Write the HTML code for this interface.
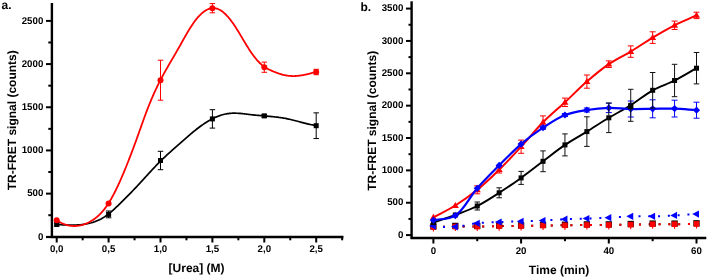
<!DOCTYPE html>
<html><head><meta charset="utf-8"><style>
html,body{margin:0;padding:0;background:#fff;}
body{width:708px;height:278px;overflow:hidden;}
svg{display:block;text-rendering:geometricPrecision;will-change:transform;}
.t{font:bold 9.7px "Liberation Sans",sans-serif;fill:#000;}
.ti{font:bold 12px "Liberation Sans",sans-serif;fill:#000;}
.pl{font:bold 12px "Liberation Sans",sans-serif;fill:#000;}
</style></head><body>
<svg width="708" height="278" viewBox="0 0 708 278">
<path d="M51.9,3V238" stroke="#000" stroke-width="2.4"/>
<path d="M50.7,237H343.5" stroke="#000" stroke-width="2.3"/>
<path d="M46,237H51" stroke="#000" stroke-width="2.2"/>
<path d="M48.3,215.21H51" stroke="#000" stroke-width="2"/>
<path d="M46,193.62H51" stroke="#000" stroke-width="2"/>
<path d="M48.3,172.03H51" stroke="#000" stroke-width="2"/>
<path d="M46,150.44H51" stroke="#000" stroke-width="2"/>
<path d="M48.3,128.85H51" stroke="#000" stroke-width="2"/>
<path d="M46,107.26H51" stroke="#000" stroke-width="2"/>
<path d="M48.3,85.67H51" stroke="#000" stroke-width="2"/>
<path d="M46,64.08H51" stroke="#000" stroke-width="2"/>
<path d="M48.3,42.49H51" stroke="#000" stroke-width="2"/>
<path d="M46,20.90H51" stroke="#000" stroke-width="2"/>
<path d="M56.70,238V242.5" stroke="#000" stroke-width="2"/>
<path d="M82.65,238V240.3" stroke="#000" stroke-width="2"/>
<path d="M108.60,238V242.5" stroke="#000" stroke-width="2"/>
<path d="M134.55,238V240.3" stroke="#000" stroke-width="2"/>
<path d="M160.50,238V242.5" stroke="#000" stroke-width="2"/>
<path d="M186.45,238V240.3" stroke="#000" stroke-width="2"/>
<path d="M212.40,238V242.5" stroke="#000" stroke-width="2"/>
<path d="M238.35,238V240.3" stroke="#000" stroke-width="2"/>
<path d="M264.30,238V242.5" stroke="#000" stroke-width="2"/>
<path d="M290.25,238V240.3" stroke="#000" stroke-width="2"/>
<path d="M316.20,238V242.5" stroke="#000" stroke-width="2"/>
<path d="M342.15,238V240.3" stroke="#000" stroke-width="2"/>
<path d="M56.5,224.55 57.5,224.59 58.5,224.63 59.5,224.68 60.5,224.72 61.5,224.77 62.5,224.82 63.5,224.86 64.5,224.90 65.5,224.94 66.5,224.98 67.5,225.02 68.5,225.04 69.5,225.07 70.5,225.08 71.5,225.09 72.5,225.10 73.5,225.09 74.5,225.08 75.5,225.05 76.5,225.02 77.5,224.97 78.5,224.91 79.5,224.84 80.5,224.76 81.5,224.66 82.5,224.55 83.5,224.42 84.5,224.27 85.5,224.11 86.5,223.93 87.5,223.74 88.5,223.52 89.5,223.28 90.5,223.02 91.5,222.75 92.5,222.45 93.5,222.12 94.5,221.78 95.5,221.41 96.5,221.01 97.5,220.59 98.5,220.14 99.5,219.67 100.5,219.16 101.5,218.63 102.5,218.07 103.5,217.47 104.5,216.85 105.5,216.19 106.5,215.50 107.5,214.78 108.5,214.02 109.5,213.23 110.5,212.40 111.5,211.55 112.5,210.67 113.5,209.77 114.5,208.85 115.5,207.92 116.5,206.97 117.5,206.02 118.5,205.07 119.5,204.10 120.5,203.13 121.5,202.16 122.5,201.18 123.5,200.19 124.5,199.19 125.5,198.19 126.5,197.19 127.5,196.17 128.5,195.15 129.5,194.13 130.5,193.10 131.5,192.07 132.5,191.03 133.5,189.98 134.5,188.93 135.5,187.87 136.5,186.81 137.5,185.74 138.5,184.67 139.5,183.59 140.5,182.51 141.5,181.42 142.5,180.33 143.5,179.24 144.5,178.15 145.5,177.05 146.5,175.96 147.5,174.86 148.5,173.77 149.5,172.68 150.5,171.59 151.5,170.51 152.5,169.44 153.5,168.37 154.5,167.30 155.5,166.25 156.5,165.21 157.5,164.17 158.5,163.15 159.5,162.14 160.5,161.14 161.5,160.15 162.5,159.18 163.5,158.21 164.5,157.26 165.5,156.32 166.5,155.39 167.5,154.47 168.5,153.56 169.5,152.65 170.5,151.76 171.5,150.86 172.5,149.97 173.5,149.09 174.5,148.21 175.5,147.33 176.5,146.46 177.5,145.58 178.5,144.71 179.5,143.83 180.5,142.96 181.5,142.08 182.5,141.20 183.5,140.32 184.5,139.44 185.5,138.56 186.5,137.68 187.5,136.80 188.5,135.93 189.5,135.06 190.5,134.21 191.5,133.36 192.5,132.51 193.5,131.69 194.5,130.87 195.5,130.06 196.5,129.27 197.5,128.49 198.5,127.73 199.5,126.98 200.5,126.25 201.5,125.53 202.5,124.82 203.5,124.14 204.5,123.47 205.5,122.81 206.5,122.18 207.5,121.56 208.5,120.96 209.5,120.38 210.5,119.82 211.5,119.28 212.5,118.76 213.5,118.26 214.5,117.78 215.5,117.33 216.5,116.89 217.5,116.48 218.5,116.09 219.5,115.72 220.5,115.38 221.5,115.06 222.5,114.76 223.5,114.49 224.5,114.25 225.5,114.03 226.5,113.84 227.5,113.68 228.5,113.54 229.5,113.43 230.5,113.34 231.5,113.27 232.5,113.22 233.5,113.20 234.5,113.19 235.5,113.20 236.5,113.23 237.5,113.27 238.5,113.33 239.5,113.39 240.5,113.47 241.5,113.56 242.5,113.66 243.5,113.77 244.5,113.88 245.5,113.99 246.5,114.11 247.5,114.23 248.5,114.36 249.5,114.48 250.5,114.60 251.5,114.72 252.5,114.83 253.5,114.94 254.5,115.05 255.5,115.15 256.5,115.25 257.5,115.34 258.5,115.43 259.5,115.52 260.5,115.60 261.5,115.69 262.5,115.77 263.5,115.85 264.5,115.94 265.5,116.02 266.5,116.10 267.5,116.19 268.5,116.28 269.5,116.36 270.5,116.46 271.5,116.55 272.5,116.65 273.5,116.75 274.5,116.86 275.5,116.97 276.5,117.08 277.5,117.20 278.5,117.33 279.5,117.47 280.5,117.61 281.5,117.76 282.5,117.92 283.5,118.08 284.5,118.26 285.5,118.44 286.5,118.64 287.5,118.84 288.5,119.05 289.5,119.28 290.5,119.51 291.5,119.74 292.5,119.99 293.5,120.24 294.5,120.49 295.5,120.75 296.5,121.01 297.5,121.27 298.5,121.53 299.5,121.80 300.5,122.06 301.5,122.33 302.5,122.59 303.5,122.85 304.5,123.11 305.5,123.36 306.5,123.61 307.5,123.85 308.5,124.09 309.5,124.31 310.5,124.54 311.5,124.75 312.5,124.95 313.5,125.14 314.5,125.32 315.5,125.49 316.4,125.64" stroke="#000" stroke-width="1.7" fill="none"/>
<path d="M56.5,220.16 57.0,220.49 57.5,220.80 58.0,221.11 58.5,221.41 59.0,221.69 59.5,221.97 60.0,222.24 60.5,222.50 61.0,222.75 61.5,222.99 62.0,223.23 62.5,223.45 63.0,223.66 63.5,223.87 64.0,224.06 64.5,224.25 65.0,224.42 65.5,224.59 66.0,224.75 66.5,224.90 67.0,225.04 67.5,225.17 68.0,225.29 68.5,225.40 69.0,225.50 69.5,225.60 70.0,225.68 70.5,225.76 71.0,225.82 71.5,225.88 72.0,225.93 72.5,225.97 73.0,226.00 73.5,226.02 74.0,226.03 74.5,226.03 75.0,226.03 75.5,226.01 76.0,225.99 76.5,225.96 77.0,225.91 77.5,225.86 78.0,225.80 78.5,225.73 79.0,225.66 79.5,225.57 80.0,225.48 80.5,225.37 81.0,225.26 81.5,225.14 82.0,225.01 82.5,224.87 83.0,224.72 83.5,224.56 84.0,224.39 84.5,224.22 85.0,224.04 85.5,223.84 86.0,223.64 86.5,223.43 87.0,223.21 87.5,222.99 88.0,222.75 88.5,222.51 89.0,222.25 89.5,221.99 90.0,221.72 90.5,221.44 91.0,221.15 91.5,220.85 92.0,220.55 92.5,220.23 93.0,219.90 93.5,219.56 94.0,219.21 94.5,218.86 95.0,218.48 95.5,218.10 96.0,217.71 96.5,217.30 97.0,216.89 97.5,216.45 98.0,216.01 98.5,215.56 99.0,215.09 99.5,214.60 100.0,214.11 100.5,213.60 101.0,213.07 101.5,212.53 102.0,211.98 102.5,211.41 103.0,210.82 103.5,210.22 104.0,209.61 104.5,208.98 105.0,208.33 105.5,207.66 106.0,206.98 106.5,206.28 107.0,205.57 107.5,204.83 108.0,204.08 108.5,203.31 109.0,202.53 109.5,201.72 110.0,200.90 110.5,200.05 111.0,199.20 111.5,198.32 112.0,197.43 112.5,196.52 113.0,195.60 113.5,194.66 114.0,193.70 114.5,192.73 115.0,191.75 115.5,190.75 116.0,189.74 116.5,188.71 117.0,187.67 117.5,186.62 118.0,185.55 118.5,184.47 119.0,183.38 119.5,182.28 120.0,181.16 120.5,180.04 121.0,178.90 121.5,177.75 122.0,176.59 122.5,175.42 123.0,174.25 123.5,173.06 124.0,171.86 124.5,170.66 125.0,169.44 125.5,168.22 126.0,166.99 126.5,165.75 127.0,164.50 127.5,163.25 128.0,161.99 128.5,160.72 129.0,159.44 129.5,158.15 130.0,156.86 130.5,155.56 131.0,154.25 131.5,152.94 132.0,151.62 132.5,150.29 133.0,148.96 133.5,147.62 134.0,146.27 134.5,144.91 135.0,143.56 135.5,142.19 136.0,140.82 136.5,139.44 137.0,138.06 137.5,136.67 138.0,135.27 138.5,133.87 139.0,132.47 139.5,131.06 140.0,129.65 140.5,128.24 141.0,126.83 141.5,125.42 142.0,124.01 142.5,122.61 143.0,121.21 143.5,119.82 144.0,118.44 144.5,117.06 145.0,115.70 145.5,114.34 146.0,113.00 146.5,111.67 147.0,110.36 147.5,109.06 148.0,107.78 148.5,106.51 149.0,105.25 149.5,104.01 150.0,102.79 150.5,101.58 151.0,100.38 151.5,99.19 152.0,98.02 152.5,96.87 153.0,95.72 153.5,94.59 154.0,93.47 154.5,92.37 155.0,91.27 155.5,90.19 156.0,89.12 156.5,88.06 157.0,87.01 157.5,85.98 158.0,84.95 158.5,83.94 159.0,82.94 159.5,81.94 160.0,80.96 160.5,79.99 161.0,79.03 161.5,78.08 162.0,77.13 162.5,76.20 163.0,75.27 163.5,74.35 164.0,73.44 164.5,72.54 165.0,71.64 165.5,70.75 166.0,69.86 166.5,68.98 167.0,68.11 167.5,67.23 168.0,66.37 168.5,65.50 169.0,64.64 169.5,63.78 170.0,62.92 170.5,62.07 171.0,61.22 171.5,60.36 172.0,59.51 172.5,58.66 173.0,57.80 173.5,56.95 174.0,56.09 174.5,55.24 175.0,54.38 175.5,53.52 176.0,52.65 176.5,51.78 177.0,50.91 177.5,50.03 178.0,49.15 178.5,48.27 179.0,47.38 179.5,46.49 180.0,45.60 180.5,44.70 181.0,43.81 181.5,42.91 182.0,42.02 182.5,41.12 183.0,40.23 183.5,39.34 184.0,38.46 184.5,37.57 185.0,36.69 185.5,35.82 186.0,34.95 186.5,34.09 187.0,33.23 187.5,32.38 188.0,31.54 188.5,30.70 189.0,29.88 189.5,29.06 190.0,28.26 190.5,27.46 191.0,26.68 191.5,25.91 192.0,25.15 192.5,24.40 193.0,23.67 193.5,22.95 194.0,22.25 194.5,21.56 195.0,20.89 195.5,20.23 196.0,19.59 196.5,18.97 197.0,18.36 197.5,17.76 198.0,17.18 198.5,16.62 199.0,16.08 199.5,15.55 200.0,15.04 200.5,14.54 201.0,14.07 201.5,13.61 202.0,13.16 202.5,12.74 203.0,12.33 203.5,11.94 204.0,11.57 204.5,11.21 205.0,10.88 205.5,10.56 206.0,10.26 206.5,9.98 207.0,9.72 207.5,9.47 208.0,9.25 208.5,9.05 209.0,8.86 209.5,8.70 210.0,8.55 210.5,8.43 211.0,8.32 211.5,8.23 212.0,8.17 212.5,8.13 213.0,8.10 213.5,8.10 214.0,8.12 214.5,8.15 215.0,8.21 215.5,8.30 216.0,8.40 216.5,8.52 217.0,8.67 217.5,8.84 218.0,9.03 218.5,9.24 219.0,9.47 219.5,9.72 220.0,9.99 220.5,10.29 221.0,10.60 221.5,10.93 222.0,11.28 222.5,11.65 223.0,12.04 223.5,12.45 224.0,12.87 224.5,13.31 225.0,13.77 225.5,14.25 226.0,14.75 226.5,15.26 227.0,15.79 227.5,16.33 228.0,16.89 228.5,17.47 229.0,18.06 229.5,18.67 230.0,19.29 230.5,19.93 231.0,20.58 231.5,21.25 232.0,21.93 232.5,22.62 233.0,23.32 233.5,24.04 234.0,24.78 234.5,25.52 235.0,26.28 235.5,27.04 236.0,27.82 236.5,28.61 237.0,29.40 237.5,30.20 238.0,31.01 238.5,31.83 239.0,32.65 239.5,33.48 240.0,34.31 240.5,35.14 241.0,35.98 241.5,36.82 242.0,37.66 242.5,38.50 243.0,39.34 243.5,40.18 244.0,41.02 244.5,41.86 245.0,42.69 245.5,43.52 246.0,44.34 246.5,45.16 247.0,45.98 247.5,46.79 248.0,47.59 248.5,48.38 249.0,49.16 249.5,49.93 250.0,50.70 250.5,51.45 251.0,52.19 251.5,52.92 252.0,53.63 252.5,54.33 253.0,55.02 253.5,55.70 254.0,56.37 254.5,57.02 255.0,57.65 255.5,58.28 256.0,58.89 256.5,59.48 257.0,60.06 257.5,60.63 258.0,61.18 258.5,61.72 259.0,62.24 259.5,62.75 260.0,63.24 260.5,63.72 261.0,64.18 261.5,64.63 262.0,65.06 262.5,65.47 263.0,65.87 263.5,66.25 264.0,66.61 264.5,66.96 265.0,67.29 265.5,67.61 266.0,67.91 266.5,68.20 267.0,68.48 267.5,68.75 268.0,69.01 268.5,69.26 269.0,69.50 269.5,69.74 270.0,69.97 270.5,70.20 271.0,70.43 271.5,70.65 272.0,70.87 272.5,71.09 273.0,71.31 273.5,71.52 274.0,71.73 274.5,71.93 275.0,72.13 275.5,72.33 276.0,72.52 276.5,72.71 277.0,72.90 277.5,73.08 278.0,73.26 278.5,73.43 279.0,73.60 279.5,73.77 280.0,73.93 280.5,74.08 281.0,74.23 281.5,74.37 282.0,74.51 282.5,74.65 283.0,74.78 283.5,74.90 284.0,75.02 284.5,75.13 285.0,75.23 285.5,75.33 286.0,75.42 286.5,75.51 287.0,75.59 287.5,75.66 288.0,75.73 288.5,75.79 289.0,75.84 289.5,75.89 290.0,75.93 290.5,75.97 291.0,76.00 291.5,76.02 292.0,76.04 292.5,76.05 293.0,76.05 293.5,76.05 294.0,76.05 294.5,76.03 295.0,76.02 295.5,76.00 296.0,75.97 296.5,75.94 297.0,75.90 297.5,75.86 298.0,75.81 298.5,75.76 299.0,75.71 299.5,75.65 300.0,75.58 300.5,75.51 301.0,75.44 301.5,75.36 302.0,75.28 302.5,75.20 303.0,75.11 303.5,75.02 304.0,74.92 304.5,74.82 305.0,74.72 305.5,74.61 306.0,74.50 306.5,74.39 307.0,74.28 307.5,74.16 308.0,74.04 308.5,73.91 309.0,73.79 309.5,73.66 310.0,73.53 310.5,73.39 311.0,73.26 311.5,73.12 312.0,72.98 312.5,72.84 313.0,72.69 313.5,72.55 314.0,72.40 314.5,72.25 315.0,72.10 315.5,71.95 316.0,71.80 316.2,71.74" stroke="#ff0000" stroke-width="1.8" fill="none"/>
<path d="M56.70,223.00V226.00M53.95,223.00H59.45M53.95,226.00H59.45" stroke="#000" stroke-width="1" fill="none"/>
<rect x="54.20" y="222.00" width="5" height="5" fill="#000"/>
<path d="M108.60,211.00V217.80M105.85,211.00H111.35M105.85,217.80H111.35" stroke="#000" stroke-width="1" fill="none"/>
<rect x="106.10" y="211.90" width="5" height="5" fill="#000"/>
<path d="M160.50,151.30V169.70M157.75,151.30H163.25M157.75,169.70H163.25" stroke="#000" stroke-width="1" fill="none"/>
<rect x="158.00" y="158.00" width="5" height="5" fill="#000"/>
<path d="M212.40,109.70V128.10M209.65,109.70H215.15M209.65,128.10H215.15" stroke="#000" stroke-width="1" fill="none"/>
<rect x="209.90" y="116.40" width="5" height="5" fill="#000"/>
<path d="M264.30,114.40V117.40M261.55,114.40H267.05M261.55,117.40H267.05" stroke="#000" stroke-width="1" fill="none"/>
<rect x="261.80" y="113.40" width="5" height="5" fill="#000"/>
<path d="M316.20,112.85V138.55M313.45,112.85H318.95M313.45,138.55H318.95" stroke="#000" stroke-width="1" fill="none"/>
<rect x="313.70" y="123.20" width="5" height="5" fill="#000"/>

<circle cx="56.70" cy="220.20" r="3" fill="#ff0000"/>

<circle cx="108.60" cy="203.60" r="3" fill="#ff0000"/>
<path d="M160.50,60.20V100.20M157.75,60.20H163.25M157.75,100.20H163.25" stroke="#ff0000" stroke-width="1" fill="none"/>
<circle cx="160.50" cy="80.20" r="3" fill="#ff0000"/>
<path d="M212.40,3.60V12.80M209.65,3.60H215.15M209.65,12.80H215.15" stroke="#ff0000" stroke-width="1" fill="none"/>
<circle cx="212.40" cy="8.20" r="3" fill="#ff0000"/>
<path d="M264.30,62.10V72.30M261.55,62.10H267.05M261.55,72.30H267.05" stroke="#ff0000" stroke-width="1" fill="none"/>
<circle cx="264.30" cy="67.20" r="3" fill="#ff0000"/>
<path d="M316.20,69.30V74.70M313.45,69.30H318.95M313.45,74.70H318.95" stroke="#ff0000" stroke-width="1" fill="none"/>
<circle cx="316.20" cy="72.00" r="3" fill="#ff0000"/>
<text x="43.3" y="239.60" text-anchor="end" class="t">0</text>
<text x="43.3" y="196.22" text-anchor="end" class="t">500</text>
<text x="43.3" y="153.04" text-anchor="end" class="t">1000</text>
<text x="43.3" y="109.86" text-anchor="end" class="t">1500</text>
<text x="43.3" y="66.68" text-anchor="end" class="t">2000</text>
<text x="43.3" y="23.50" text-anchor="end" class="t">2500</text>
<text x="56.70" y="251.8" text-anchor="middle" class="t">0,0</text>
<text x="108.60" y="251.8" text-anchor="middle" class="t">0,5</text>
<text x="160.50" y="251.8" text-anchor="middle" class="t">1,0</text>
<text x="212.40" y="251.8" text-anchor="middle" class="t">1,5</text>
<text x="264.30" y="251.8" text-anchor="middle" class="t">2,0</text>
<text x="316.20" y="251.8" text-anchor="middle" class="t">2,5</text>
<text x="196.6" y="272" text-anchor="middle" class="ti">[Urea] (M)</text>
<text transform="translate(16.2,120.25) rotate(-90)" text-anchor="middle" class="ti">TR-FRET signal (counts)</text>
<text x="1.5" y="8.5" class="pl">a.</text>
<path d="M411.6,1.3V239" stroke="#000" stroke-width="2.4"/>
<path d="M410.7,238H706.3" stroke="#000" stroke-width="2.3"/>
<path d="M406,235.10H411" stroke="#000" stroke-width="2"/>
<path d="M408.5,218.92H411" stroke="#000" stroke-width="2"/>
<path d="M406,202.74H411" stroke="#000" stroke-width="2"/>
<path d="M408.5,186.56H411" stroke="#000" stroke-width="2"/>
<path d="M406,170.38H411" stroke="#000" stroke-width="2"/>
<path d="M408.5,154.20H411" stroke="#000" stroke-width="2"/>
<path d="M406,138.02H411" stroke="#000" stroke-width="2"/>
<path d="M408.5,121.84H411" stroke="#000" stroke-width="2"/>
<path d="M406,105.66H411" stroke="#000" stroke-width="2"/>
<path d="M408.5,89.48H411" stroke="#000" stroke-width="2"/>
<path d="M406,73.30H411" stroke="#000" stroke-width="2"/>
<path d="M408.5,57.12H411" stroke="#000" stroke-width="2"/>
<path d="M406,40.94H411" stroke="#000" stroke-width="2"/>
<path d="M408.5,24.76H411" stroke="#000" stroke-width="2"/>
<path d="M406,8.58H411" stroke="#000" stroke-width="2"/>
<path d="M433.40,239V243.5" stroke="#000" stroke-width="2"/>
<path d="M521.10,239V243.5" stroke="#000" stroke-width="2"/>
<path d="M608.80,239V243.5" stroke="#000" stroke-width="2"/>
<path d="M696.50,239V243.5" stroke="#000" stroke-width="2"/>
<path d="M477.25,239V241.2" stroke="#000" stroke-width="2"/>
<path d="M564.95,239V241.2" stroke="#000" stroke-width="2"/>
<path d="M652.65,239V241.2" stroke="#000" stroke-width="2"/>
<path d="M433.40,227.00 L433.95,226.98 L434.50,226.96 L435.04,226.95 L435.59,226.93 L436.14,226.91 L436.69,226.90 L437.24,226.88 L437.78,226.86 L438.33,226.85 L438.88,226.83 L439.43,226.82 L439.98,226.80 L440.53,226.78 L441.07,226.77 L441.62,226.75 L442.17,226.74 L442.72,226.73 L443.27,226.71 L443.81,226.70 L444.36,226.68 L444.91,226.67 L445.46,226.66 L446.01,226.65 L446.55,226.64 L447.10,226.62 L447.65,226.61 L448.20,226.60 L448.75,226.59 L449.30,226.58 L449.84,226.57 L450.39,226.56 L450.94,226.55 L451.49,226.55 L452.04,226.54 L452.58,226.53 L453.13,226.52 L453.68,226.52 L454.23,226.51 L454.78,226.51 L455.32,226.50 L455.87,226.50 L456.42,226.49 L456.97,226.49 L457.52,226.49 L458.07,226.48 L458.61,226.48 L459.16,226.48 L459.71,226.48 L460.26,226.48 L460.81,226.48 L461.35,226.48 L461.90,226.49 L462.45,226.49 L463.00,226.49 L463.55,226.49 L464.09,226.49 L464.64,226.50 L465.19,226.50 L465.74,226.50 L466.29,226.50 L466.84,226.51 L467.38,226.51 L467.93,226.51 L468.48,226.51 L469.03,226.52 L469.58,226.52 L470.12,226.52 L470.67,226.52 L471.22,226.52 L471.77,226.52 L472.32,226.52 L472.87,226.52 L473.41,226.52 L473.96,226.52 L474.51,226.52 L475.06,226.52 L475.61,226.51 L476.15,226.51 L476.70,226.51 L477.25,226.50 L477.80,226.49 L478.35,226.49 L478.89,226.48 L479.44,226.47 L479.99,226.46 L480.54,226.46 L481.09,226.45 L481.63,226.44 L482.18,226.43 L482.73,226.42 L483.28,226.41 L483.83,226.40 L484.38,226.39 L484.92,226.37 L485.47,226.36 L486.02,226.35 L486.57,226.34 L487.12,226.33 L487.66,226.32 L488.21,226.30 L488.76,226.29 L489.31,226.28 L489.86,226.27 L490.40,226.26 L490.95,226.24 L491.50,226.23 L492.05,226.22 L492.60,226.21 L493.15,226.20 L493.69,226.19 L494.24,226.18 L494.79,226.17 L495.34,226.16 L495.89,226.15 L496.43,226.14 L496.98,226.13 L497.53,226.12 L498.08,226.11 L498.63,226.11 L499.17,226.10 L499.72,226.09 L500.27,226.09 L500.82,226.08 L501.37,226.08 L501.92,226.08 L502.46,226.07 L503.01,226.07 L503.56,226.07 L504.11,226.06 L504.66,226.06 L505.20,226.06 L505.75,226.06 L506.30,226.06 L506.85,226.06 L507.40,226.06 L507.94,226.06 L508.49,226.06 L509.04,226.06 L509.59,226.06 L510.14,226.06 L510.69,226.05 L511.23,226.05 L511.78,226.05 L512.33,226.05 L512.88,226.05 L513.43,226.05 L513.97,226.05 L514.52,226.05 L515.07,226.05 L515.62,226.05 L516.17,226.04 L516.72,226.04 L517.26,226.04 L517.81,226.03 L518.36,226.03 L518.91,226.02 L519.46,226.02 L520.00,226.01 L520.55,226.01 L521.10,226.00 L521.65,225.99 L522.20,225.98 L522.74,225.97 L523.29,225.97 L523.84,225.95 L524.39,225.94 L524.94,225.93 L525.49,225.92 L526.03,225.91 L526.58,225.90 L527.13,225.88 L527.68,225.87 L528.23,225.86 L528.77,225.84 L529.32,225.83 L529.87,225.81 L530.42,225.80 L530.97,225.78 L531.51,225.77 L532.06,225.75 L532.61,225.74 L533.16,225.72 L533.71,225.71 L534.25,225.69 L534.80,225.68 L535.35,225.67 L535.90,225.65 L536.45,225.64 L537.00,225.62 L537.54,225.61 L538.09,225.60 L538.64,225.58 L539.19,225.57 L539.74,225.56 L540.28,225.55 L540.83,225.54 L541.38,225.53 L541.93,225.52 L542.48,225.51 L543.02,225.50 L543.57,225.49 L544.12,225.48 L544.67,225.48 L545.22,225.47 L545.77,225.46 L546.31,225.46 L546.86,225.45 L547.41,225.45 L547.96,225.44 L548.51,225.43 L549.05,225.43 L549.60,225.42 L550.15,225.42 L550.70,225.42 L551.25,225.41 L551.79,225.41 L552.34,225.40 L552.89,225.40 L553.44,225.39 L553.99,225.39 L554.54,225.39 L555.08,225.38 L555.63,225.38 L556.18,225.37 L556.73,225.37 L557.28,225.37 L557.82,225.36 L558.37,225.36 L558.92,225.35 L559.47,225.35 L560.02,225.35 L560.57,225.34 L561.11,225.34 L561.66,225.33 L562.21,225.33 L562.76,225.32 L563.31,225.32 L563.85,225.31 L564.40,225.31 L564.95,225.30 L565.50,225.29 L566.05,225.29 L566.59,225.28 L567.14,225.27 L567.69,225.27 L568.24,225.26 L568.79,225.25 L569.34,225.24 L569.88,225.24 L570.43,225.23 L570.98,225.22 L571.53,225.21 L572.08,225.20 L572.62,225.19 L573.17,225.19 L573.72,225.18 L574.27,225.17 L574.82,225.16 L575.36,225.15 L575.91,225.14 L576.46,225.13 L577.01,225.13 L577.56,225.12 L578.11,225.11 L578.65,225.10 L579.20,225.09 L579.75,225.08 L580.30,225.08 L580.85,225.07 L581.39,225.06 L581.94,225.05 L582.49,225.05 L583.04,225.04 L583.59,225.03 L584.13,225.03 L584.68,225.02 L585.23,225.02 L585.78,225.01 L586.33,225.00 L586.88,225.00 L587.42,225.00 L587.97,224.99 L588.52,224.99 L589.07,224.99 L589.62,224.99 L590.16,224.99 L590.71,224.98 L591.26,224.98 L591.81,224.99 L592.36,224.99 L592.90,224.99 L593.45,224.99 L594.00,224.99 L594.55,224.99 L595.10,225.00 L595.64,225.00 L596.19,225.00 L596.74,225.00 L597.29,225.01 L597.84,225.01 L598.39,225.01 L598.93,225.02 L599.48,225.02 L600.03,225.02 L600.58,225.02 L601.13,225.02 L601.67,225.03 L602.22,225.03 L602.77,225.03 L603.32,225.03 L603.87,225.03 L604.41,225.03 L604.96,225.03 L605.51,225.03 L606.06,225.02 L606.61,225.02 L607.16,225.02 L607.70,225.01 L608.25,225.01 L608.80,225.00 L609.35,224.99 L609.90,224.99 L610.44,224.98 L610.99,224.97 L611.54,224.96 L612.09,224.96 L612.64,224.95 L613.18,224.94 L613.73,224.93 L614.28,224.92 L614.83,224.91 L615.38,224.90 L615.93,224.89 L616.47,224.88 L617.02,224.88 L617.57,224.87 L618.12,224.86 L618.67,224.85 L619.21,224.84 L619.76,224.82 L620.31,224.81 L620.86,224.80 L621.41,224.79 L621.96,224.78 L622.50,224.77 L623.05,224.76 L623.60,224.75 L624.15,224.74 L624.70,224.73 L625.24,224.72 L625.79,224.70 L626.34,224.69 L626.89,224.68 L627.44,224.67 L627.98,224.66 L628.53,224.65 L629.08,224.63 L629.63,224.62 L630.18,224.61 L630.73,224.60 L631.27,224.59 L631.82,224.58 L632.37,224.57 L632.92,224.55 L633.47,224.54 L634.01,224.53 L634.56,224.52 L635.11,224.51 L635.66,224.50 L636.21,224.48 L636.75,224.47 L637.30,224.46 L637.85,224.45 L638.40,224.44 L638.95,224.43 L639.50,224.42 L640.04,224.41 L640.59,224.40 L641.14,224.39 L641.69,224.38 L642.24,224.37 L642.78,224.36 L643.33,224.35 L643.88,224.34 L644.43,224.33 L644.98,224.32 L645.52,224.31 L646.07,224.30 L646.62,224.29 L647.17,224.28 L647.72,224.27 L648.26,224.26 L648.81,224.25 L649.36,224.24 L649.91,224.24 L650.46,224.23 L651.01,224.22 L651.55,224.21 L652.10,224.21 L652.65,224.20 L653.20,224.19 L653.75,224.19 L654.29,224.18 L654.84,224.18 L655.39,224.18 L655.94,224.17 L656.49,224.17 L657.04,224.17 L657.58,224.17 L658.13,224.17 L658.68,224.17 L659.23,224.17 L659.78,224.17 L660.32,224.17 L660.87,224.17 L661.42,224.17 L661.97,224.18 L662.52,224.18 L663.06,224.18 L663.61,224.18 L664.16,224.18 L664.71,224.19 L665.26,224.19 L665.81,224.19 L666.35,224.19 L666.90,224.20 L667.45,224.20 L668.00,224.20 L668.55,224.20 L669.09,224.21 L669.64,224.21 L670.19,224.21 L670.74,224.21 L671.29,224.21 L671.83,224.21 L672.38,224.21 L672.93,224.21 L673.48,224.21 L674.03,224.20 L674.58,224.20 L675.12,224.20 L675.67,224.19 L676.22,224.19 L676.77,224.18 L677.32,224.18 L677.86,224.18 L678.41,224.17 L678.96,224.17 L679.51,224.16 L680.06,224.16 L680.60,224.15 L681.15,224.14 L681.70,224.14 L682.25,224.13 L682.80,224.12 L683.35,224.12 L683.89,224.11 L684.44,224.10 L684.99,224.10 L685.54,224.09 L686.09,224.08 L686.63,224.07 L687.18,224.06 L687.73,224.05 L688.28,224.05 L688.83,224.04 L689.37,224.03 L689.92,224.02 L690.47,224.01 L691.02,224.00 L691.57,223.99 L692.12,223.98 L692.66,223.97 L693.21,223.96 L693.76,223.95 L694.31,223.94 L694.86,223.93 L695.40,223.92 L695.95,223.91 L696.50,223.90" stroke="#000" stroke-width="2" fill="none" stroke-dasharray="0 9.8" stroke-dashoffset="-0.8" stroke-linecap="square"/>
<path d="M433.40,227.00 L433.95,226.98 L434.50,226.96 L435.04,226.95 L435.59,226.93 L436.14,226.91 L436.69,226.90 L437.24,226.88 L437.78,226.86 L438.33,226.85 L438.88,226.83 L439.43,226.82 L439.98,226.80 L440.53,226.78 L441.07,226.77 L441.62,226.75 L442.17,226.74 L442.72,226.73 L443.27,226.71 L443.81,226.70 L444.36,226.68 L444.91,226.67 L445.46,226.66 L446.01,226.65 L446.55,226.64 L447.10,226.62 L447.65,226.61 L448.20,226.60 L448.75,226.59 L449.30,226.58 L449.84,226.57 L450.39,226.56 L450.94,226.55 L451.49,226.55 L452.04,226.54 L452.58,226.53 L453.13,226.52 L453.68,226.52 L454.23,226.51 L454.78,226.51 L455.32,226.50 L455.87,226.50 L456.42,226.49 L456.97,226.49 L457.52,226.49 L458.07,226.48 L458.61,226.48 L459.16,226.48 L459.71,226.48 L460.26,226.48 L460.81,226.48 L461.35,226.48 L461.90,226.49 L462.45,226.49 L463.00,226.49 L463.55,226.49 L464.09,226.49 L464.64,226.50 L465.19,226.50 L465.74,226.50 L466.29,226.50 L466.84,226.51 L467.38,226.51 L467.93,226.51 L468.48,226.51 L469.03,226.52 L469.58,226.52 L470.12,226.52 L470.67,226.52 L471.22,226.52 L471.77,226.52 L472.32,226.52 L472.87,226.52 L473.41,226.52 L473.96,226.52 L474.51,226.52 L475.06,226.52 L475.61,226.51 L476.15,226.51 L476.70,226.51 L477.25,226.50 L477.80,226.49 L478.35,226.49 L478.89,226.48 L479.44,226.47 L479.99,226.46 L480.54,226.46 L481.09,226.45 L481.63,226.44 L482.18,226.43 L482.73,226.42 L483.28,226.41 L483.83,226.40 L484.38,226.39 L484.92,226.37 L485.47,226.36 L486.02,226.35 L486.57,226.34 L487.12,226.33 L487.66,226.32 L488.21,226.30 L488.76,226.29 L489.31,226.28 L489.86,226.27 L490.40,226.26 L490.95,226.24 L491.50,226.23 L492.05,226.22 L492.60,226.21 L493.15,226.20 L493.69,226.19 L494.24,226.18 L494.79,226.17 L495.34,226.16 L495.89,226.15 L496.43,226.14 L496.98,226.13 L497.53,226.12 L498.08,226.11 L498.63,226.11 L499.17,226.10 L499.72,226.09 L500.27,226.09 L500.82,226.08 L501.37,226.08 L501.92,226.08 L502.46,226.07 L503.01,226.07 L503.56,226.07 L504.11,226.06 L504.66,226.06 L505.20,226.06 L505.75,226.06 L506.30,226.06 L506.85,226.06 L507.40,226.06 L507.94,226.06 L508.49,226.06 L509.04,226.06 L509.59,226.06 L510.14,226.06 L510.69,226.05 L511.23,226.05 L511.78,226.05 L512.33,226.05 L512.88,226.05 L513.43,226.05 L513.97,226.05 L514.52,226.05 L515.07,226.05 L515.62,226.05 L516.17,226.04 L516.72,226.04 L517.26,226.04 L517.81,226.03 L518.36,226.03 L518.91,226.02 L519.46,226.02 L520.00,226.01 L520.55,226.01 L521.10,226.00 L521.65,225.99 L522.20,225.98 L522.74,225.97 L523.29,225.97 L523.84,225.95 L524.39,225.94 L524.94,225.93 L525.49,225.92 L526.03,225.91 L526.58,225.90 L527.13,225.88 L527.68,225.87 L528.23,225.86 L528.77,225.84 L529.32,225.83 L529.87,225.81 L530.42,225.80 L530.97,225.78 L531.51,225.77 L532.06,225.75 L532.61,225.74 L533.16,225.72 L533.71,225.71 L534.25,225.69 L534.80,225.68 L535.35,225.67 L535.90,225.65 L536.45,225.64 L537.00,225.62 L537.54,225.61 L538.09,225.60 L538.64,225.58 L539.19,225.57 L539.74,225.56 L540.28,225.55 L540.83,225.54 L541.38,225.53 L541.93,225.52 L542.48,225.51 L543.02,225.50 L543.57,225.49 L544.12,225.48 L544.67,225.48 L545.22,225.47 L545.77,225.46 L546.31,225.46 L546.86,225.45 L547.41,225.45 L547.96,225.44 L548.51,225.43 L549.05,225.43 L549.60,225.42 L550.15,225.42 L550.70,225.42 L551.25,225.41 L551.79,225.41 L552.34,225.40 L552.89,225.40 L553.44,225.39 L553.99,225.39 L554.54,225.39 L555.08,225.38 L555.63,225.38 L556.18,225.37 L556.73,225.37 L557.28,225.37 L557.82,225.36 L558.37,225.36 L558.92,225.35 L559.47,225.35 L560.02,225.35 L560.57,225.34 L561.11,225.34 L561.66,225.33 L562.21,225.33 L562.76,225.32 L563.31,225.32 L563.85,225.31 L564.40,225.31 L564.95,225.30 L565.50,225.29 L566.05,225.29 L566.59,225.28 L567.14,225.27 L567.69,225.27 L568.24,225.26 L568.79,225.25 L569.34,225.24 L569.88,225.24 L570.43,225.23 L570.98,225.22 L571.53,225.21 L572.08,225.20 L572.62,225.19 L573.17,225.19 L573.72,225.18 L574.27,225.17 L574.82,225.16 L575.36,225.15 L575.91,225.14 L576.46,225.13 L577.01,225.13 L577.56,225.12 L578.11,225.11 L578.65,225.10 L579.20,225.09 L579.75,225.08 L580.30,225.08 L580.85,225.07 L581.39,225.06 L581.94,225.05 L582.49,225.05 L583.04,225.04 L583.59,225.03 L584.13,225.03 L584.68,225.02 L585.23,225.02 L585.78,225.01 L586.33,225.00 L586.88,225.00 L587.42,225.00 L587.97,224.99 L588.52,224.99 L589.07,224.99 L589.62,224.99 L590.16,224.99 L590.71,224.98 L591.26,224.98 L591.81,224.99 L592.36,224.99 L592.90,224.99 L593.45,224.99 L594.00,224.99 L594.55,224.99 L595.10,225.00 L595.64,225.00 L596.19,225.00 L596.74,225.00 L597.29,225.01 L597.84,225.01 L598.39,225.01 L598.93,225.02 L599.48,225.02 L600.03,225.02 L600.58,225.02 L601.13,225.02 L601.67,225.03 L602.22,225.03 L602.77,225.03 L603.32,225.03 L603.87,225.03 L604.41,225.03 L604.96,225.03 L605.51,225.03 L606.06,225.02 L606.61,225.02 L607.16,225.02 L607.70,225.01 L608.25,225.01 L608.80,225.00 L609.35,224.99 L609.90,224.99 L610.44,224.98 L610.99,224.97 L611.54,224.96 L612.09,224.96 L612.64,224.95 L613.18,224.94 L613.73,224.93 L614.28,224.92 L614.83,224.91 L615.38,224.90 L615.93,224.89 L616.47,224.88 L617.02,224.88 L617.57,224.87 L618.12,224.86 L618.67,224.85 L619.21,224.84 L619.76,224.82 L620.31,224.81 L620.86,224.80 L621.41,224.79 L621.96,224.78 L622.50,224.77 L623.05,224.76 L623.60,224.75 L624.15,224.74 L624.70,224.73 L625.24,224.72 L625.79,224.70 L626.34,224.69 L626.89,224.68 L627.44,224.67 L627.98,224.66 L628.53,224.65 L629.08,224.63 L629.63,224.62 L630.18,224.61 L630.73,224.60 L631.27,224.59 L631.82,224.58 L632.37,224.57 L632.92,224.55 L633.47,224.54 L634.01,224.53 L634.56,224.52 L635.11,224.51 L635.66,224.50 L636.21,224.48 L636.75,224.47 L637.30,224.46 L637.85,224.45 L638.40,224.44 L638.95,224.43 L639.50,224.42 L640.04,224.41 L640.59,224.40 L641.14,224.39 L641.69,224.38 L642.24,224.37 L642.78,224.36 L643.33,224.35 L643.88,224.34 L644.43,224.33 L644.98,224.32 L645.52,224.31 L646.07,224.30 L646.62,224.29 L647.17,224.28 L647.72,224.27 L648.26,224.26 L648.81,224.25 L649.36,224.24 L649.91,224.24 L650.46,224.23 L651.01,224.22 L651.55,224.21 L652.10,224.21 L652.65,224.20 L653.20,224.19 L653.75,224.19 L654.29,224.18 L654.84,224.18 L655.39,224.18 L655.94,224.17 L656.49,224.17 L657.04,224.17 L657.58,224.17 L658.13,224.17 L658.68,224.17 L659.23,224.17 L659.78,224.17 L660.32,224.17 L660.87,224.17 L661.42,224.17 L661.97,224.18 L662.52,224.18 L663.06,224.18 L663.61,224.18 L664.16,224.18 L664.71,224.19 L665.26,224.19 L665.81,224.19 L666.35,224.19 L666.90,224.20 L667.45,224.20 L668.00,224.20 L668.55,224.20 L669.09,224.21 L669.64,224.21 L670.19,224.21 L670.74,224.21 L671.29,224.21 L671.83,224.21 L672.38,224.21 L672.93,224.21 L673.48,224.21 L674.03,224.20 L674.58,224.20 L675.12,224.20 L675.67,224.19 L676.22,224.19 L676.77,224.18 L677.32,224.18 L677.86,224.18 L678.41,224.17 L678.96,224.17 L679.51,224.16 L680.06,224.16 L680.60,224.15 L681.15,224.14 L681.70,224.14 L682.25,224.13 L682.80,224.12 L683.35,224.12 L683.89,224.11 L684.44,224.10 L684.99,224.10 L685.54,224.09 L686.09,224.08 L686.63,224.07 L687.18,224.06 L687.73,224.05 L688.28,224.05 L688.83,224.04 L689.37,224.03 L689.92,224.02 L690.47,224.01 L691.02,224.00 L691.57,223.99 L692.12,223.98 L692.66,223.97 L693.21,223.96 L693.76,223.95 L694.31,223.94 L694.86,223.93 L695.40,223.92 L695.95,223.91 L696.50,223.90" stroke="#ff0000" stroke-width="2" fill="none" stroke-dasharray="0 9.8" stroke-dashoffset="-0.8" stroke-linecap="square"/>
<path d="M433.40,226.10 L433.95,226.16 L434.50,226.22 L435.04,226.27 L435.59,226.33 L436.14,226.39 L436.69,226.44 L437.24,226.49 L437.78,226.54 L438.33,226.59 L438.88,226.64 L439.43,226.68 L439.98,226.72 L440.53,226.77 L441.07,226.81 L441.62,226.84 L442.17,226.88 L442.72,226.91 L443.27,226.94 L443.81,226.97 L444.36,226.99 L444.91,227.01 L445.46,227.03 L446.01,227.05 L446.55,227.06 L447.10,227.07 L447.65,227.08 L448.20,227.09 L448.75,227.09 L449.30,227.08 L449.84,227.08 L450.39,227.07 L450.94,227.05 L451.49,227.04 L452.04,227.01 L452.58,226.99 L453.13,226.96 L453.68,226.93 L454.23,226.89 L454.78,226.85 L455.32,226.80 L455.87,226.75 L456.42,226.69 L456.97,226.63 L457.52,226.56 L458.07,226.49 L458.61,226.42 L459.16,226.34 L459.71,226.26 L460.26,226.17 L460.81,226.09 L461.35,225.99 L461.90,225.90 L462.45,225.81 L463.00,225.71 L463.55,225.61 L464.09,225.51 L464.64,225.40 L465.19,225.30 L465.74,225.20 L466.29,225.09 L466.84,224.99 L467.38,224.88 L467.93,224.78 L468.48,224.67 L469.03,224.57 L469.58,224.47 L470.12,224.37 L470.67,224.27 L471.22,224.17 L471.77,224.08 L472.32,223.98 L472.87,223.89 L473.41,223.81 L473.96,223.72 L474.51,223.64 L475.06,223.57 L475.61,223.49 L476.15,223.42 L476.70,223.36 L477.25,223.30 L477.80,223.24 L478.35,223.19 L478.89,223.14 L479.44,223.08 L479.99,223.03 L480.54,222.99 L481.09,222.94 L481.63,222.89 L482.18,222.85 L482.73,222.81 L483.28,222.76 L483.83,222.72 L484.38,222.69 L484.92,222.65 L485.47,222.61 L486.02,222.58 L486.57,222.54 L487.12,222.51 L487.66,222.48 L488.21,222.45 L488.76,222.42 L489.31,222.39 L489.86,222.36 L490.40,222.33 L490.95,222.31 L491.50,222.28 L492.05,222.26 L492.60,222.23 L493.15,222.21 L493.69,222.19 L494.24,222.17 L494.79,222.15 L495.34,222.13 L495.89,222.11 L496.43,222.09 L496.98,222.07 L497.53,222.05 L498.08,222.03 L498.63,222.02 L499.17,222.00 L499.72,221.98 L500.27,221.97 L500.82,221.95 L501.37,221.93 L501.92,221.92 L502.46,221.90 L503.01,221.88 L503.56,221.87 L504.11,221.85 L504.66,221.83 L505.20,221.81 L505.75,221.79 L506.30,221.78 L506.85,221.76 L507.40,221.74 L507.94,221.72 L508.49,221.71 L509.04,221.69 L509.59,221.67 L510.14,221.65 L510.69,221.63 L511.23,221.62 L511.78,221.60 L512.33,221.58 L512.88,221.56 L513.43,221.54 L513.97,221.53 L514.52,221.51 L515.07,221.49 L515.62,221.47 L516.17,221.45 L516.72,221.44 L517.26,221.42 L517.81,221.40 L518.36,221.38 L518.91,221.37 L519.46,221.35 L520.00,221.33 L520.55,221.32 L521.10,221.30 L521.65,221.28 L522.20,221.27 L522.74,221.25 L523.29,221.24 L523.84,221.22 L524.39,221.20 L524.94,221.19 L525.49,221.17 L526.03,221.16 L526.58,221.14 L527.13,221.13 L527.68,221.11 L528.23,221.09 L528.77,221.08 L529.32,221.06 L529.87,221.05 L530.42,221.03 L530.97,221.01 L531.51,221.00 L532.06,220.98 L532.61,220.97 L533.16,220.95 L533.71,220.93 L534.25,220.91 L534.80,220.90 L535.35,220.88 L535.90,220.86 L536.45,220.84 L537.00,220.83 L537.54,220.81 L538.09,220.79 L538.64,220.77 L539.19,220.75 L539.74,220.73 L540.28,220.71 L540.83,220.69 L541.38,220.67 L541.93,220.64 L542.48,220.62 L543.02,220.60 L543.57,220.58 L544.12,220.55 L544.67,220.52 L545.22,220.50 L545.77,220.47 L546.31,220.43 L546.86,220.40 L547.41,220.37 L547.96,220.33 L548.51,220.30 L549.05,220.26 L549.60,220.22 L550.15,220.19 L550.70,220.15 L551.25,220.11 L551.79,220.07 L552.34,220.03 L552.89,219.99 L553.44,219.95 L553.99,219.91 L554.54,219.87 L555.08,219.83 L555.63,219.79 L556.18,219.75 L556.73,219.71 L557.28,219.67 L557.82,219.63 L558.37,219.59 L558.92,219.55 L559.47,219.51 L560.02,219.48 L560.57,219.44 L561.11,219.41 L561.66,219.37 L562.21,219.34 L562.76,219.31 L563.31,219.28 L563.85,219.25 L564.40,219.23 L564.95,219.20 L565.50,219.18 L566.05,219.15 L566.59,219.13 L567.14,219.11 L567.69,219.08 L568.24,219.06 L568.79,219.04 L569.34,219.02 L569.88,219.00 L570.43,218.98 L570.98,218.96 L571.53,218.94 L572.08,218.93 L572.62,218.91 L573.17,218.89 L573.72,218.87 L574.27,218.86 L574.82,218.84 L575.36,218.82 L575.91,218.81 L576.46,218.79 L577.01,218.77 L577.56,218.76 L578.11,218.74 L578.65,218.73 L579.20,218.71 L579.75,218.70 L580.30,218.68 L580.85,218.67 L581.39,218.65 L581.94,218.64 L582.49,218.62 L583.04,218.61 L583.59,218.59 L584.13,218.58 L584.68,218.56 L585.23,218.55 L585.78,218.53 L586.33,218.52 L586.88,218.50 L587.42,218.48 L587.97,218.47 L588.52,218.45 L589.07,218.44 L589.62,218.42 L590.16,218.40 L590.71,218.39 L591.26,218.37 L591.81,218.36 L592.36,218.34 L592.90,218.32 L593.45,218.30 L594.00,218.29 L594.55,218.27 L595.10,218.25 L595.64,218.23 L596.19,218.22 L596.74,218.20 L597.29,218.18 L597.84,218.16 L598.39,218.14 L598.93,218.12 L599.48,218.10 L600.03,218.08 L600.58,218.06 L601.13,218.04 L601.67,218.02 L602.22,218.00 L602.77,217.97 L603.32,217.95 L603.87,217.93 L604.41,217.90 L604.96,217.88 L605.51,217.86 L606.06,217.83 L606.61,217.81 L607.16,217.78 L607.70,217.75 L608.25,217.73 L608.80,217.70 L609.35,217.67 L609.90,217.64 L610.44,217.61 L610.99,217.58 L611.54,217.54 L612.09,217.51 L612.64,217.47 L613.18,217.44 L613.73,217.40 L614.28,217.36 L614.83,217.32 L615.38,217.28 L615.93,217.24 L616.47,217.20 L617.02,217.16 L617.57,217.12 L618.12,217.08 L618.67,217.04 L619.21,217.00 L619.76,216.96 L620.31,216.92 L620.86,216.87 L621.41,216.83 L621.96,216.80 L622.50,216.76 L623.05,216.72 L623.60,216.68 L624.15,216.64 L624.70,216.61 L625.24,216.57 L625.79,216.54 L626.34,216.51 L626.89,216.48 L627.44,216.45 L627.98,216.42 L628.53,216.39 L629.08,216.36 L629.63,216.34 L630.18,216.32 L630.73,216.30 L631.27,216.28 L631.82,216.27 L632.37,216.25 L632.92,216.24 L633.47,216.23 L634.01,216.23 L634.56,216.22 L635.11,216.22 L635.66,216.22 L636.21,216.22 L636.75,216.22 L637.30,216.22 L637.85,216.22 L638.40,216.22 L638.95,216.23 L639.50,216.23 L640.04,216.24 L640.59,216.25 L641.14,216.25 L641.69,216.26 L642.24,216.27 L642.78,216.28 L643.33,216.28 L643.88,216.29 L644.43,216.30 L644.98,216.31 L645.52,216.31 L646.07,216.32 L646.62,216.32 L647.17,216.33 L647.72,216.33 L648.26,216.33 L648.81,216.33 L649.36,216.33 L649.91,216.33 L650.46,216.33 L651.01,216.32 L651.55,216.32 L652.10,216.31 L652.65,216.30 L653.20,216.29 L653.75,216.28 L654.29,216.26 L654.84,216.25 L655.39,216.24 L655.94,216.22 L656.49,216.20 L657.04,216.19 L657.58,216.17 L658.13,216.15 L658.68,216.14 L659.23,216.12 L659.78,216.10 L660.32,216.08 L660.87,216.06 L661.42,216.04 L661.97,216.02 L662.52,215.99 L663.06,215.97 L663.61,215.95 L664.16,215.92 L664.71,215.90 L665.26,215.88 L665.81,215.85 L666.35,215.83 L666.90,215.80 L667.45,215.77 L668.00,215.75 L668.55,215.72 L669.09,215.69 L669.64,215.66 L670.19,215.64 L670.74,215.61 L671.29,215.58 L671.83,215.55 L672.38,215.52 L672.93,215.49 L673.48,215.46 L674.03,215.43 L674.58,215.40 L675.12,215.37 L675.67,215.34 L676.22,215.31 L676.77,215.28 L677.32,215.25 L677.86,215.22 L678.41,215.18 L678.96,215.15 L679.51,215.12 L680.06,215.09 L680.60,215.06 L681.15,215.03 L681.70,215.00 L682.25,214.96 L682.80,214.93 L683.35,214.90 L683.89,214.87 L684.44,214.84 L684.99,214.80 L685.54,214.77 L686.09,214.74 L686.63,214.71 L687.18,214.68 L687.73,214.64 L688.28,214.61 L688.83,214.58 L689.37,214.54 L689.92,214.51 L690.47,214.48 L691.02,214.44 L691.57,214.41 L692.12,214.38 L692.66,214.34 L693.21,214.31 L693.76,214.27 L694.31,214.24 L694.86,214.20 L695.40,214.17 L695.95,214.14 L696.50,214.10" stroke="#0000ff" stroke-width="2" fill="none" stroke-dasharray="0 9.8" stroke-dashoffset="-0.8" stroke-linecap="square"/>
<rect x="430.25" y="223.25" width="6.3" height="6.3" fill="#000"/>
<rect x="452.18" y="222.75" width="6.3" height="6.3" fill="#000"/>
<rect x="474.10" y="222.75" width="6.3" height="6.3" fill="#000"/>
<rect x="496.02" y="222.35" width="6.3" height="6.3" fill="#000"/>
<rect x="517.95" y="222.25" width="6.3" height="6.3" fill="#000"/>
<rect x="539.88" y="221.75" width="6.3" height="6.3" fill="#000"/>
<rect x="561.80" y="221.55" width="6.3" height="6.3" fill="#000"/>
<rect x="583.73" y="221.25" width="6.3" height="6.3" fill="#000"/>
<rect x="605.65" y="221.25" width="6.3" height="6.3" fill="#000"/>
<rect x="627.57" y="220.85" width="6.3" height="6.3" fill="#000"/>
<rect x="649.50" y="220.45" width="6.3" height="6.3" fill="#000"/>
<rect x="671.42" y="220.45" width="6.3" height="6.3" fill="#000"/>
<rect x="693.35" y="220.15" width="6.3" height="6.3" fill="#000"/>
<path d="M433.40,227.00V231.60" stroke="#ff0000" stroke-width="1.1"/>
<rect x="430.60" y="224.20" width="5.6" height="5.6" fill="#ff0000"/>
<path d="M455.32,226.50V231.10" stroke="#ff0000" stroke-width="1.1"/>
<rect x="452.52" y="223.70" width="5.6" height="5.6" fill="#ff0000"/>
<path d="M477.25,226.50V231.10" stroke="#ff0000" stroke-width="1.1"/>
<rect x="474.45" y="223.70" width="5.6" height="5.6" fill="#ff0000"/>
<path d="M499.17,226.10V230.70" stroke="#ff0000" stroke-width="1.1"/>
<rect x="496.37" y="223.30" width="5.6" height="5.6" fill="#ff0000"/>
<path d="M521.10,226.00V230.60" stroke="#ff0000" stroke-width="1.1"/>
<rect x="518.30" y="223.20" width="5.6" height="5.6" fill="#ff0000"/>
<path d="M543.02,225.50V230.10" stroke="#ff0000" stroke-width="1.1"/>
<rect x="540.23" y="222.70" width="5.6" height="5.6" fill="#ff0000"/>
<path d="M564.95,225.30V229.90" stroke="#ff0000" stroke-width="1.1"/>
<rect x="562.15" y="222.50" width="5.6" height="5.6" fill="#ff0000"/>
<path d="M586.88,225.00V229.60" stroke="#ff0000" stroke-width="1.1"/>
<rect x="584.08" y="222.20" width="5.6" height="5.6" fill="#ff0000"/>
<path d="M608.80,225.00V229.60" stroke="#ff0000" stroke-width="1.1"/>
<rect x="606.00" y="222.20" width="5.6" height="5.6" fill="#ff0000"/>
<path d="M630.72,224.60V229.20" stroke="#ff0000" stroke-width="1.1"/>
<rect x="627.92" y="221.80" width="5.6" height="5.6" fill="#ff0000"/>
<path d="M652.65,224.20V228.80" stroke="#ff0000" stroke-width="1.1"/>
<rect x="649.85" y="221.40" width="5.6" height="5.6" fill="#ff0000"/>
<path d="M674.57,224.20V228.80" stroke="#ff0000" stroke-width="1.1"/>
<rect x="671.77" y="221.40" width="5.6" height="5.6" fill="#ff0000"/>
<path d="M696.50,223.90V228.50" stroke="#ff0000" stroke-width="1.1"/>
<rect x="693.70" y="221.10" width="5.6" height="5.6" fill="#ff0000"/>
<path d="M429.10,226.10L435.90,222.50L435.90,229.70Z" fill="#0000ff"/>
<path d="M451.02,226.80L457.82,223.20L457.82,230.40Z" fill="#0000ff"/>
<path d="M472.95,223.30L479.75,219.70L479.75,226.90Z" fill="#0000ff"/>
<path d="M494.87,222.00L501.67,218.40L501.67,225.60Z" fill="#0000ff"/>
<path d="M516.80,221.30L523.60,217.70L523.60,224.90Z" fill="#0000ff"/>
<path d="M538.73,220.60L545.52,217.00L545.52,224.20Z" fill="#0000ff"/>
<path d="M560.65,219.20L567.45,215.60L567.45,222.80Z" fill="#0000ff"/>
<path d="M582.58,218.50L589.38,214.90L589.38,222.10Z" fill="#0000ff"/>
<path d="M604.50,217.70L611.30,214.10L611.30,221.30Z" fill="#0000ff"/>
<path d="M626.42,216.30L633.22,212.70L633.22,219.90Z" fill="#0000ff"/>
<path d="M648.35,216.30L655.15,212.70L655.15,219.90Z" fill="#0000ff"/>
<path d="M670.27,215.40L677.07,211.80L677.07,219.00Z" fill="#0000ff"/>
<path d="M692.20,214.10L699.00,210.50L699.00,217.70Z" fill="#0000ff"/>
<path d="M433.40,222.60 C440.71,220.07 448.05,217.75 455.32,215.00 C462.67,212.22 470.08,209.61 477.25,206.00 C484.70,202.25 491.93,197.44 499.17,192.80 C506.55,188.08 513.86,183.10 521.10,177.90 C528.48,172.61 535.71,166.81 543.02,161.30 C550.33,155.81 557.52,149.92 564.95,144.90 C572.14,140.05 579.59,136.10 586.88,131.60 C594.20,127.07 601.44,122.21 608.80,117.80 C616.06,113.45 623.51,109.82 630.72,105.30 C638.13,100.67 645.15,94.50 652.65,90.30 C659.78,86.31 667.35,84.13 674.57,80.50 C681.97,76.78 689.19,72.30 696.50,68.20" stroke="#000" stroke-width="1.9" fill="none"/>
<rect x="430.90" y="220.10" width="5" height="5" fill="#000"/>
<rect x="452.82" y="212.50" width="5" height="5" fill="#000"/>
<rect x="474.75" y="203.50" width="5" height="5" fill="#000"/>
<rect x="496.67" y="190.30" width="5" height="5" fill="#000"/>
<rect x="518.60" y="175.40" width="5" height="5" fill="#000"/>
<rect x="540.52" y="158.80" width="5" height="5" fill="#000"/>
<rect x="562.45" y="142.40" width="5" height="5" fill="#000"/>
<rect x="584.38" y="129.10" width="5" height="5" fill="#000"/>
<rect x="606.30" y="115.30" width="5" height="5" fill="#000"/>
<rect x="628.22" y="102.80" width="5" height="5" fill="#000"/>
<rect x="650.15" y="87.80" width="5" height="5" fill="#000"/>
<rect x="672.07" y="78.00" width="5" height="5" fill="#000"/>
<rect x="694.00" y="65.70" width="5" height="5" fill="#000"/>


<path d="M477.25,202.00V210.00M474.50,202.00H480.00M474.50,210.00H480.00" stroke="#111" stroke-width="1" fill="none"/>
<path d="M499.17,187.80V197.80M496.42,187.80H501.92M496.42,197.80H501.92" stroke="#111" stroke-width="1" fill="none"/>
<path d="M521.10,171.40V184.40M518.35,171.40H523.85M518.35,184.40H523.85" stroke="#111" stroke-width="1" fill="none"/>
<path d="M543.02,150.90V171.70M540.27,150.90H545.77M540.27,171.70H545.77" stroke="#111" stroke-width="1" fill="none"/>
<path d="M564.95,133.90V155.90M562.20,133.90H567.70M562.20,155.90H567.70" stroke="#111" stroke-width="1" fill="none"/>
<path d="M433.40,217.30 C440.71,213.37 448.16,209.97 455.32,205.50 C462.79,200.85 470.11,195.59 477.25,189.80 C484.75,183.72 491.98,176.75 499.17,169.70 C506.61,162.41 513.85,154.53 521.10,146.70 C528.47,138.74 535.52,129.86 543.02,122.30 C550.16,115.11 557.67,109.06 564.95,102.30 C572.29,95.49 579.43,88.05 586.88,81.60 C594.05,75.38 601.30,69.29 608.80,64.20 C615.93,59.36 623.47,56.00 630.72,51.60 C638.09,47.14 645.28,42.02 652.65,37.60 C659.90,33.26 667.18,29.03 674.57,25.30 C681.80,21.65 689.19,18.70 696.50,15.40" stroke="#ff0000" stroke-width="2" fill="none"/>
<path d="M433.40,213.73L436.90,219.68L429.90,219.68Z" fill="#ff0000"/>
<path d="M455.32,201.93L458.82,207.88L451.82,207.88Z" fill="#ff0000"/>
<path d="M477.25,186.23L480.75,192.18L473.75,192.18Z" fill="#ff0000"/>
<path d="M499.17,166.13L502.67,172.08L495.67,172.08Z" fill="#ff0000"/>
<path d="M521.10,143.13L524.60,149.08L517.60,149.08Z" fill="#ff0000"/>
<path d="M543.02,118.73L546.52,124.68L539.52,124.68Z" fill="#ff0000"/>
<path d="M564.95,98.73L568.45,104.68L561.45,104.68Z" fill="#ff0000"/>
<path d="M586.88,78.03L590.38,83.98L583.38,83.98Z" fill="#ff0000"/>
<path d="M608.80,60.63L612.30,66.58L605.30,66.58Z" fill="#ff0000"/>
<path d="M630.72,48.03L634.22,53.98L627.22,53.98Z" fill="#ff0000"/>
<path d="M652.65,34.03L656.15,39.98L649.15,39.98Z" fill="#ff0000"/>
<path d="M674.57,21.73L678.07,27.68L671.07,27.68Z" fill="#ff0000"/>
<path d="M696.50,11.83L700.00,17.78L693.00,17.78Z" fill="#ff0000"/>


<path d="M477.25,185.80V193.80M474.25,185.80H480.25M474.25,193.80H480.25" stroke="#ff0000" stroke-width="1" fill="none"/>
<path d="M499.17,166.40V173.00M496.17,166.40H502.17M496.17,173.00H502.17" stroke="#ff0000" stroke-width="1" fill="none"/>
<path d="M521.10,140.10V153.30M518.10,140.10H524.10M518.10,153.30H524.10" stroke="#ff0000" stroke-width="1" fill="none"/>
<path d="M543.02,115.90V128.70M540.02,115.90H546.02M540.02,128.70H546.02" stroke="#ff0000" stroke-width="1" fill="none"/>
<path d="M564.95,98.10V106.50M561.95,98.10H567.95M561.95,106.50H567.95" stroke="#ff0000" stroke-width="1" fill="none"/>
<path d="M586.88,75.00V88.20M583.88,75.00H589.88M583.88,88.20H589.88" stroke="#ff0000" stroke-width="1" fill="none"/>
<path d="M608.80,60.90V67.50M605.80,60.90H611.80M605.80,67.50H611.80" stroke="#ff0000" stroke-width="1" fill="none"/>
<path d="M630.72,45.90V57.30M627.72,45.90H633.72M627.72,57.30H633.72" stroke="#ff0000" stroke-width="1" fill="none"/>
<path d="M652.65,31.80V43.40M649.65,31.80H655.65M649.65,43.40H655.65" stroke="#ff0000" stroke-width="1" fill="none"/>
<path d="M674.57,21.10V29.50M671.57,21.10H677.57M671.57,29.50H677.57" stroke="#ff0000" stroke-width="1" fill="none"/>
<path d="M696.50,12.20V18.60M693.50,12.20H699.50M693.50,18.60H699.50" stroke="#ff0000" stroke-width="1" fill="none"/>
<path d="M433.40,220.20 C440.71,218.67 448.67,219.69 455.32,215.60 C463.65,210.49 469.75,196.85 477.25,188.30 C484.39,180.17 491.80,172.83 499.17,165.40 C506.42,158.10 513.58,150.52 521.10,144.10 C528.22,138.02 535.57,132.62 543.02,127.70 C550.20,122.96 557.41,117.96 564.95,115.00 C572.05,112.21 579.53,111.18 586.88,110.00 C594.15,108.83 601.49,108.07 608.80,107.90 C616.10,107.73 623.41,108.85 630.72,109.00 C638.03,109.15 645.34,108.87 652.65,108.80 C659.96,108.73 667.27,108.37 674.57,108.60 C681.89,108.83 689.19,109.67 696.50,110.20" stroke="#0000ff" stroke-width="2.2" fill="none"/>
<path d="M433.40,216.60L437.00,220.20L433.40,223.80L429.80,220.20Z" fill="#0000ff"/>
<path d="M455.32,212.00L458.93,215.60L455.32,219.20L451.72,215.60Z" fill="#0000ff"/>
<path d="M477.25,184.70L480.85,188.30L477.25,191.90L473.65,188.30Z" fill="#0000ff"/>
<path d="M499.17,161.80L502.77,165.40L499.17,169.00L495.57,165.40Z" fill="#0000ff"/>
<path d="M521.10,140.50L524.70,144.10L521.10,147.70L517.50,144.10Z" fill="#0000ff"/>
<path d="M543.02,124.10L546.62,127.70L543.02,131.30L539.42,127.70Z" fill="#0000ff"/>
<path d="M564.95,111.40L568.55,115.00L564.95,118.60L561.35,115.00Z" fill="#0000ff"/>
<path d="M586.88,106.40L590.48,110.00L586.88,113.60L583.27,110.00Z" fill="#0000ff"/>
<path d="M608.80,104.30L612.40,107.90L608.80,111.50L605.20,107.90Z" fill="#0000ff"/>
<path d="M630.72,105.40L634.32,109.00L630.72,112.60L627.12,109.00Z" fill="#0000ff"/>
<path d="M652.65,105.20L656.25,108.80L652.65,112.40L649.05,108.80Z" fill="#0000ff"/>
<path d="M674.57,105.00L678.17,108.60L674.57,112.20L670.97,108.60Z" fill="#0000ff"/>
<path d="M696.50,106.60L700.10,110.20L696.50,113.80L692.90,110.20Z" fill="#0000ff"/>





<path d="M543.02,126.20V129.20M540.02,126.20H546.02M540.02,129.20H546.02" stroke="#0000ff" stroke-width="1" fill="none"/>
<path d="M564.95,113.50V116.50M561.95,113.50H567.95M561.95,116.50H567.95" stroke="#0000ff" stroke-width="1" fill="none"/>
<path d="M586.88,108.00V112.00M583.88,108.00H589.88M583.88,112.00H589.88" stroke="#0000ff" stroke-width="1" fill="none"/>
<path d="M608.80,103.20V112.60M605.80,103.20H611.80M605.80,112.60H611.80" stroke="#0000ff" stroke-width="1" fill="none"/>
<path d="M630.72,101.00V117.00M627.72,101.00H633.72M627.72,117.00H633.72" stroke="#0000ff" stroke-width="1" fill="none"/>
<path d="M652.65,99.80V117.80M649.65,99.80H655.65M649.65,117.80H655.65" stroke="#0000ff" stroke-width="1" fill="none"/>
<path d="M674.57,100.20V117.00M671.57,100.20H677.57M671.57,117.00H677.57" stroke="#0000ff" stroke-width="1" fill="none"/>
<path d="M696.50,102.20V118.20M693.50,102.20H699.50M693.50,118.20H699.50" stroke="#0000ff" stroke-width="1" fill="none"/>
<path d="M586.88,116.80V146.40M584.12,116.80H589.62M584.12,146.40H589.62" stroke="#111" stroke-width="1" fill="none"/>
<path d="M608.80,103.00V132.60M606.05,103.00H611.55M606.05,132.60H611.55" stroke="#111" stroke-width="1" fill="none"/>
<path d="M630.72,89.30V121.30M627.97,89.30H633.47M627.97,121.30H633.47" stroke="#111" stroke-width="1" fill="none"/>
<path d="M652.65,72.50V108.10M649.90,72.50H655.40M649.90,108.10H655.40" stroke="#111" stroke-width="1" fill="none"/>
<path d="M674.57,64.30V96.70M671.82,64.30H677.32M671.82,96.70H677.32" stroke="#111" stroke-width="1" fill="none"/>
<path d="M696.50,52.50V83.90M693.75,52.50H699.25M693.75,83.90H699.25" stroke="#111" stroke-width="1" fill="none"/>
<rect x="628.22" y="104.30" width="5" height="5" fill="#000"/>
<text x="403.3" y="237.70" text-anchor="end" class="t">0</text>
<text x="403.3" y="205.34" text-anchor="end" class="t">500</text>
<text x="403.3" y="172.98" text-anchor="end" class="t">1000</text>
<text x="403.3" y="140.62" text-anchor="end" class="t">1500</text>
<text x="403.3" y="108.26" text-anchor="end" class="t">2000</text>
<text x="403.3" y="75.90" text-anchor="end" class="t">2500</text>
<text x="403.3" y="43.54" text-anchor="end" class="t">3000</text>
<text x="403.3" y="11.18" text-anchor="end" class="t">3500</text>
<text x="433.40" y="253.8" text-anchor="middle" class="t">0</text>
<text x="521.10" y="253.8" text-anchor="middle" class="t">20</text>
<text x="608.80" y="253.8" text-anchor="middle" class="t">40</text>
<text x="696.50" y="253.8" text-anchor="middle" class="t">60</text>
<text x="559" y="273.7" text-anchor="middle" class="ti">Time (min)</text>
<text transform="translate(376.3,120.85) rotate(-90)" text-anchor="middle" class="ti">TR-FRET signal (counts)</text>
<text x="360.5" y="10.8" class="pl">b.</text>
</svg>
</body></html>
